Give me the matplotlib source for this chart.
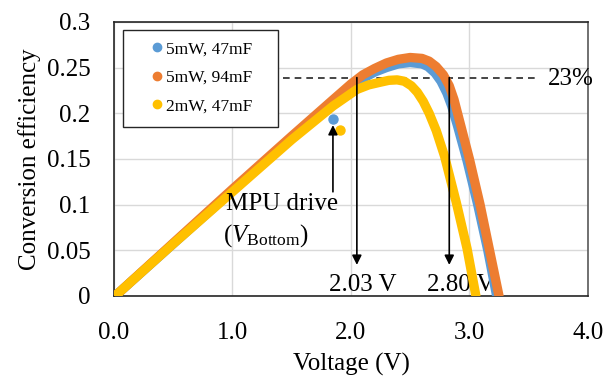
import matplotlib
matplotlib.use('Agg')
import matplotlib.pyplot as plt
from matplotlib.patches import Rectangle
from matplotlib.lines import Line2D
from matplotlib.ticker import FuncFormatter

plt.rcParams['font.family'] = ['Liberation Serif', 'DejaVu Serif']
plt.rcParams['mathtext.fontset'] = 'custom'
plt.rcParams['mathtext.rm'] = 'Liberation Serif'
plt.rcParams['mathtext.it'] = 'Liberation Serif:italic'

# series
labels = ['5mW, 47mF', '5mW, 94mF', '2mW, 47mF']
colors = ['#5B9BD5', '#ED7D31', '#FFC000']

v_47 = [0.01, 0.5, 1.0, 1.5, 1.85, 2.0, 2.1, 2.2, 2.3, 2.4, 2.5, 2.6, 2.65, 2.71, 2.76,
        2.81, 2.85, 2.9, 2.98, 3.07, 3.155, 3.23]
e_47 = [0.0, 0.057, 0.115, 0.173, 0.212, 0.229, 0.238, 0.245, 0.250, 0.254, 0.2555, 0.254, 0.251, 0.244, 0.235,
        0.222, 0.208, 0.186, 0.148, 0.100, 0.050, 0.0]

v_94 = [0.01, 0.5, 1.0, 1.5, 1.85, 2.0, 2.1, 2.2, 2.3, 2.4, 2.5, 2.6, 2.66, 2.72, 2.78,
        2.83, 2.87, 2.92, 3.0, 3.09, 3.17, 3.25]
e_94 = [0.0, 0.058, 0.117, 0.175, 0.215, 0.232, 0.242, 0.249, 0.255, 0.259, 0.261, 0.260, 0.257, 0.251, 0.242,
        0.230, 0.215, 0.190, 0.150, 0.100, 0.050, 0.0]

v_2mw = [0.01, 0.5, 1.0, 1.5, 1.85, 1.95, 2.05, 2.15, 2.25, 2.32, 2.39, 2.45, 2.51, 2.56, 2.61,
         2.66, 2.72, 2.79, 2.89, 2.98, 3.055]
e_2mw = [0.0, 0.057, 0.114, 0.171, 0.208, 0.217, 0.226, 0.231, 0.234, 0.236, 0.2365, 0.235, 0.230, 0.223, 0.213,
         0.200, 0.181, 0.153, 0.102, 0.052, 0.0]

# dips at the MPU drive point
mpu_v = [1.85, None, 1.91]
mpu_e = [0.194, None, 0.182]

series_v = [v_47, v_94, v_2mw]
series_e = [e_47, e_94, e_2mw]

level = 0.239          # the "23%" line
cross_v = [2.05, 2.83]
cross_labels = ['2.03 V', '2.80 V']

fig = plt.figure(figsize=(6.13, 3.77), dpi=100)
ax = fig.add_axes([0.186, 0.215, 0.773, 0.727])

for v, e, c, mv, me in zip(series_v, series_e, colors, mpu_v, mpu_e):
    ax.plot(v, e, color=c, lw=6.7, solid_capstyle='round', solid_joinstyle='round', zorder=3)
    if mv is not None:
        ax.plot([mv], [me], 'o', color=c, ms=6.5, zorder=3)

ax.set_xlim(0, 4)
ax.set_ylim(0, 0.3)
ax.set_xticks([0, 1, 2, 3, 4])
ax.set_yticks([0, 0.05, 0.1, 0.15, 0.2, 0.25, 0.3])
ax.xaxis.set_major_formatter(FuncFormatter(lambda x, p: '%.1f' % x))
ax.yaxis.set_major_formatter(FuncFormatter(lambda y, p: '%g' % y))
ax.tick_params(length=0, labelsize=18)
ax.tick_params(axis='y', pad=17)
ax.tick_params(axis='x', pad=19)
ax.grid(True, color='#D9D9D9', lw=1)
ax.set_axisbelow(True)
for s in ax.spines.values():
    s.set_color('#262626')
    s.set_linewidth(1.2)
ax.spines['right'].set_color('#595959')

ax.set_xlabel('Voltage (V)', fontsize=18, labelpad=6)
ax.set_ylabel('Conversion efficiency', fontsize=18, labelpad=4)

# 23% line and crossing arrows
ax.plot([1.43, 3.55], [level, level], color='#262626', lw=1.2, ls=(0, (4, 3)), zorder=2.5)
ax.text(3.86, 0.237, '23%', fontsize=18, ha='center', va='center')
for cv, cl, dx in zip(cross_v, cross_labels, [0.05, 0.1]):
    ax.annotate('', xy=(cv, 0.034), xytext=(cv, level),
                arrowprops=dict(arrowstyle='-|>', color='black', lw=1.2, mutation_scale=14,
                                shrinkA=0, shrinkB=0), zorder=5)
    ax.text(cv + dx, 0.005, cl, fontsize=18, ha='center', va='baseline', zorder=2)

# MPU drive arrow
ax.annotate('', xy=(1.848, 0.187), xytext=(1.848, 0.114),
            arrowprops=dict(arrowstyle='-|>', color='black', lw=1.2, mutation_scale=14,
                            shrinkA=0, shrinkB=0), zorder=5)
ax.text(1.42, 0.094, 'MPU drive', fontsize=18, ha='center', va='baseline', zorder=6)
ax.text(1.28, 0.060, r'($V_{\rm Bottom}$)', fontsize=18, ha='center', va='baseline', zorder=6)

# legend: text/markers from legend, frame drawn as a box
handles = [Line2D([], [], ls='none', marker='o', ms=6, color=c) for c in colors]
leg = ax.legend(handles, labels, loc='center left', bbox_to_anchor=(0.0797, 0.796),
                frameon=False, borderpad=0, handlelength=0.6, handletextpad=0.2,
                labelspacing=0.72, fontsize=12.5, borderaxespad=0)
ax.add_patch(Rectangle((0.019, 0.617), 0.327, 0.354, transform=ax.transAxes,
                       facecolor='white', edgecolor='#262626', lw=1, zorder=4))
leg.set_zorder(6)

fig.savefig('out.png', dpi=100)
